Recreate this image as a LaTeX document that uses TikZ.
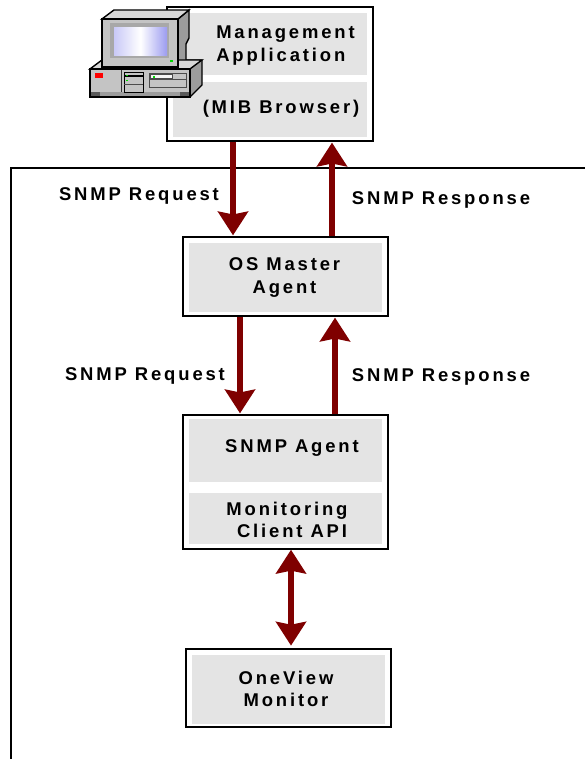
\documentclass[tikz,border=0pt]{standalone}
\usepackage{fontspec}
\setmainfont{Liberation Sans}[LetterSpace=15.5]
\usetikzlibrary{arrows.meta}
\definecolor{arrowred}{HTML}{7F0000}
\definecolor{panelgray}{HTML}{E4E4E4}
\definecolor{pcfront}{HTML}{C4C4C4}
\definecolor{pctop}{HTML}{D8D8D8}
\definecolor{pcside}{HTML}{9C9C9C}
\definecolor{pcbezel}{HTML}{A8A8A8}
\definecolor{pcscreen}{HTML}{9C9CF0}
\tikzset{
	outerbox/.style={draw=black, line width=0.85pt, fill=white, rectangle, inner sep=0pt},
	panel/.style={fill=panelgray, rectangle, inner sep=0pt},
	lbl/.style={draw=none, font=\fontsize{10.5}{12.8}\selectfont\bfseries, inner sep=0pt},
	flow/.style={draw=arrowred, line width=3.4pt, -{Stealth[length=13.5pt, width=17pt, inset=1.6pt]}, shorten >=0.5pt},
	both/.style={draw=arrowred, line width=3.4pt, {Stealth[length=13.5pt, width=17pt, inset=1.6pt]}-{Stealth[length=13.5pt, width=17pt, inset=1.6pt]}, shorten >=1.5pt},
	pcline/.style={draw=black, line width=0.8pt}
}
\begin{document}
\begin{tikzpicture}[x=0.02cm, y=-0.02cm]
	\useasboundingbox (0,0) rectangle (585,759);
	\coordinate (ftl) at (11,168);
	\coordinate (fbl) at (11,759);
	\coordinate (ftr) at (585,168);
	\draw[line width=0.85pt] (fbl) -- (ftl) -- (ftr);

	% boxes
	\node (mgr) at (270,74) [outerbox, minimum width=206*0.02cm, minimum height=134*0.02cm] {};
	\node (mgr1) at (270,44) [panel, minimum width=194*0.02cm, minimum height=62*0.02cm] {};
	\node (mgr2) at (270,109.5) [panel, minimum width=194*0.02cm, minimum height=55*0.02cm] {};
	\node (os) at (285.5,276.5) [outerbox, minimum width=205*0.02cm, minimum height=79*0.02cm] {};
	\node (os1) at (285.5,277.5) [panel, minimum width=193*0.02cm, minimum height=69*0.02cm] {};
	\node (agent) at (285.5,482) [outerbox, minimum width=205*0.02cm, minimum height=134*0.02cm] {};
	\node (agent1) at (285.5,450.5) [panel, minimum width=193*0.02cm, minimum height=63*0.02cm] {};
	\node (agent2) at (285.5,518.5) [panel, minimum width=193*0.02cm, minimum height=51*0.02cm] {};
	\node (ov) at (288.5,688) [outerbox, minimum width=205*0.02cm, minimum height=78*0.02cm] {};
	\node (ov1) at (288.5,689.5) [panel, minimum width=193*0.02cm, minimum height=69*0.02cm] {};

	% labels
	\node (t1) at (285.5,45.5) [lbl, align=left] {Management\\Application};
	\node (t2) at (281,109) [lbl] {(MIB Browser)};
	\node (t3) at (284.5,277.5) [lbl, align=center] {OS Master\\Agent};
	\node (t4) at (292,448) [lbl] {SNMP Agent};
	\node (t5) at (287,520) [lbl, align=left] {Monitoring\\\hspace*{6pt}Client API};
	\node (t6) at (286,689) [lbl, align=center] {OneView\\Monitor};
	\node (req1) at (139,196) [lbl] {SNMP Request};
	\node (resp1) at (441,200) [lbl] {SNMP Response};
	\node (req2) at (145,376) [lbl] {SNMP Request};
	\node (resp2) at (441,377) [lbl] {SNMP Response};

	% arrows
	\draw[flow] (mgr.south -| 233,0) -- (os.north -| 233,0);
	\draw[flow] (os.north -| 332,0) -- (mgr.south -| 332,0);
	\draw[flow] (os.south -| 240,0) -- (agent.north -| 240,0);
	\draw[flow] (agent.north -| 335,0) -- (os.south -| 335,0);
	\draw[both] (agent.south -| 291,0) -- (ov.north -| 291,0);

	% computer
	\draw[pcline, fill=pcside] (178,19) -- (189,10) -- (189,38) -- (186,44) -- (186,60) -- (202,60) -- (202,85) -- (190,97) -- (178,97) -- cycle;
	\draw[pcline, fill=pctop] (102,19) -- (114,10) -- (189,10) -- (178,19) -- cycle;
	\draw[pcline, fill=pctop] (90,69) -- (102,60) -- (202,60) -- (190,69) -- cycle;
	\draw[pcline, fill=pcfront] (102,19) rectangle (178,67);
	\fill[pcbezel] (110,23) rectangle (169,58);
	\shade[left color=pcscreen!55, right color=pcscreen, middle color=white] (114,28) rectangle (167,56);
	\draw[pcline, fill=pcfront] (90,69) rectangle (190,97);
	\fill[pcside] (91,92) rectangle (189,96.5);
	\fill[black!65] (91,92.5) rectangle (100,96.5);
	\fill[black!65] (180,92.5) rectangle (189,96.5);
	\draw[black, line width=0.4pt, fill=pcfront] (124,72) rectangle (143,92);
	\fill[black] (125,75) rectangle (143,77);
	\draw[black!70, line width=0.4pt] (124,84) -- (143,84);
	\draw[black!80, line width=0.5pt] (121,70) -- (121,92);
	\draw[black!70, line width=0.5pt, fill=pcfront] (149,73) rectangle (186,87);
	\draw[black!70, line width=0.4pt, fill=white!85!pcfront] (150,74) rectangle (172,78);
	\draw[black!70, line width=0.4pt] (149,79.5) -- (186,79.5);
	\fill[red] (95,73.5) rectangle (103,78);
	\fill[green!85!black] (169.5,60.5) rectangle (173,62.5);
	\fill[green!85!black] (153,76.5) rectangle (155,78);
	\fill[green!85!black] (126,75) rectangle (128,76);
	\fill[green!85!black] (126,80) rectangle (128,81.5);
\end{tikzpicture}
\end{document}
